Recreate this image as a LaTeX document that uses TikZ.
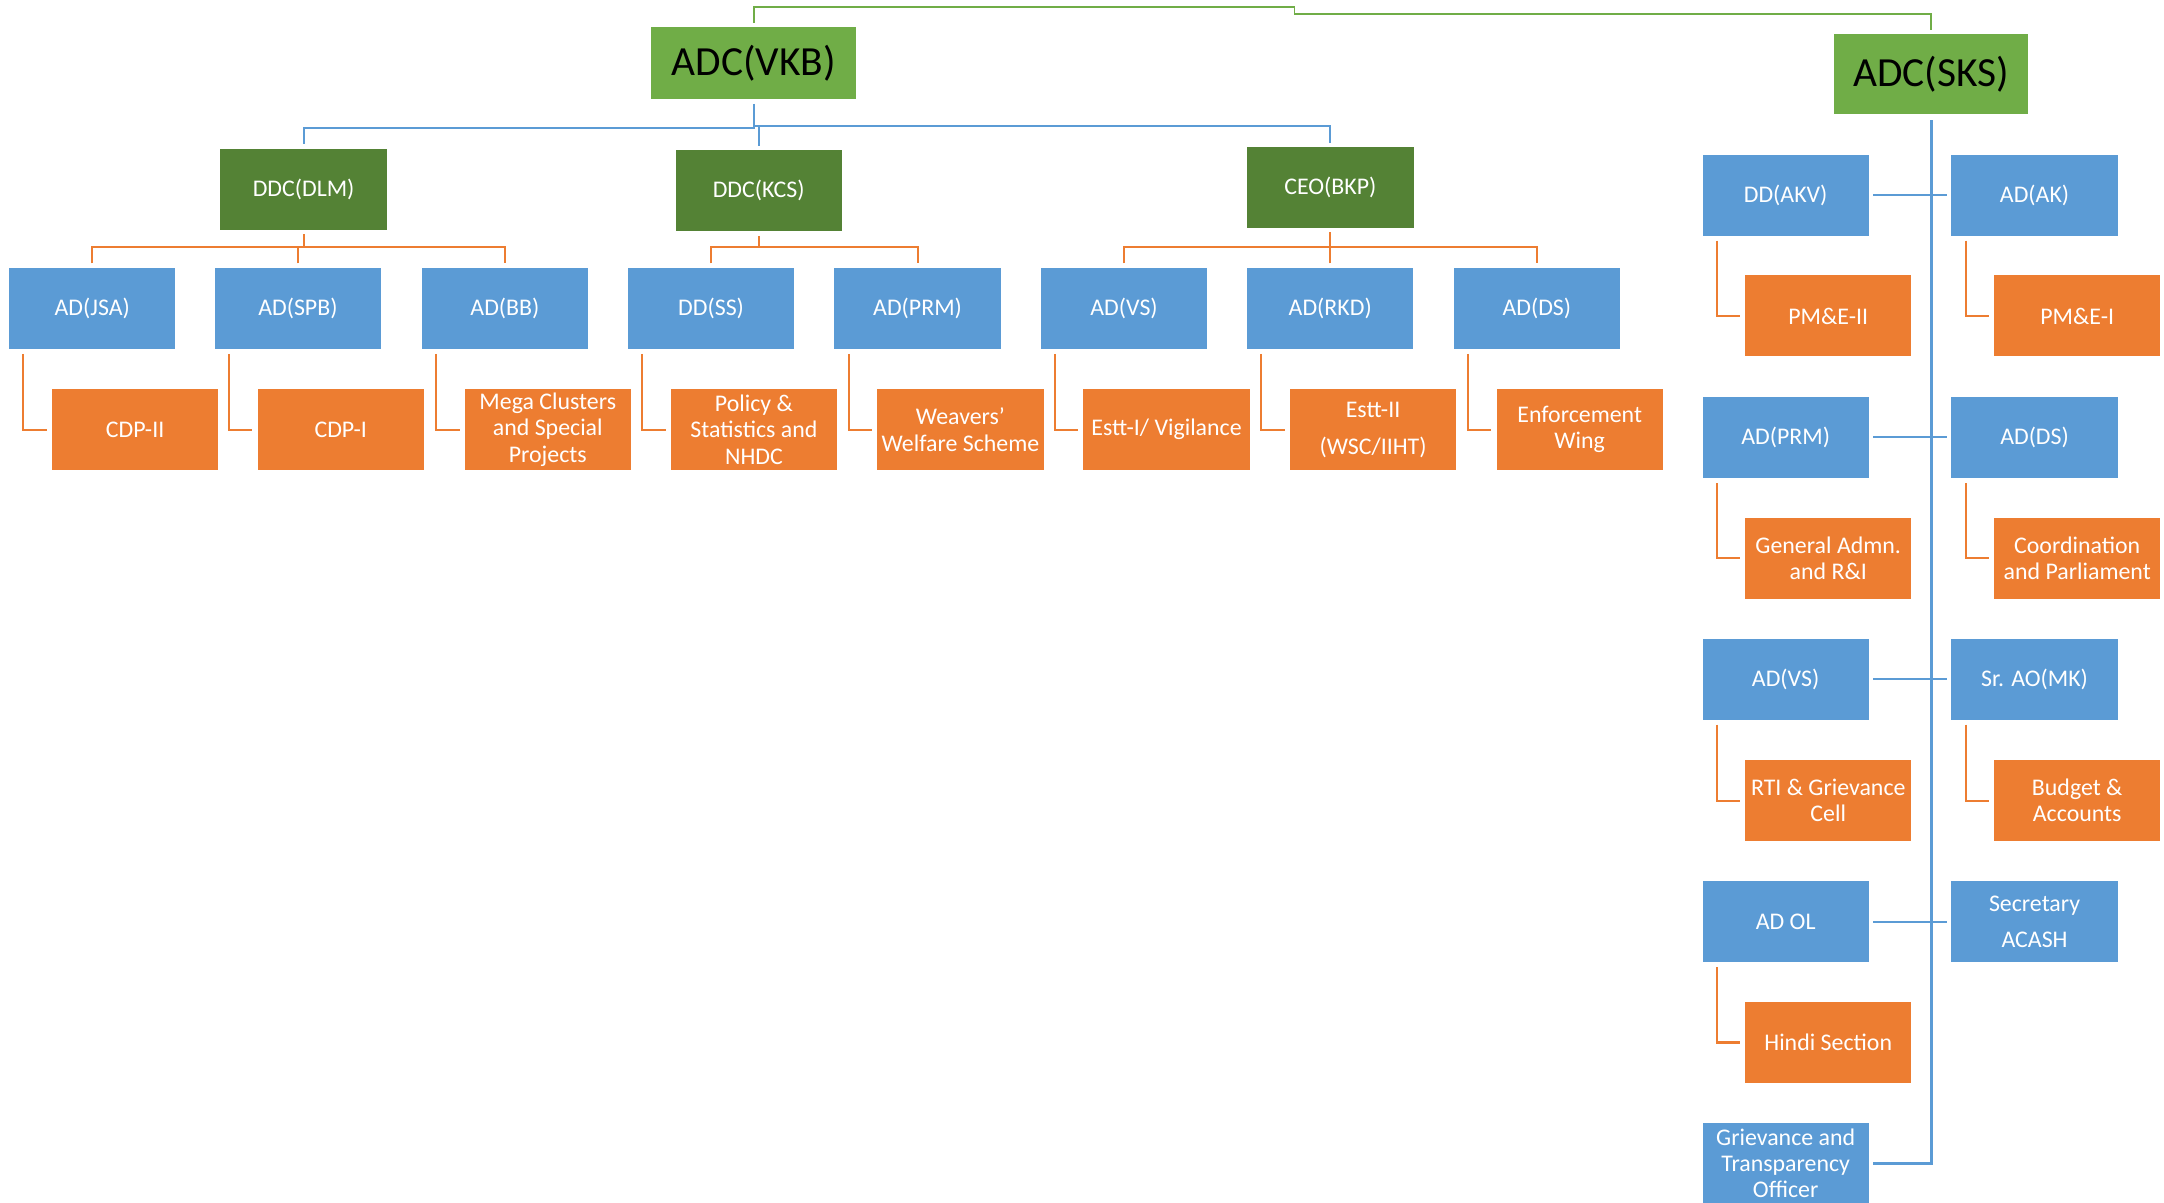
\documentclass[tikz,border=0pt]{standalone}
\usepackage{fontspec}
\setmainfont{Carlito}
\definecolor{lgreen}{HTML}{70AD47}
\definecolor{dgreen}{HTML}{548235}
\definecolor{mblue}{HTML}{5B9BD5}
\definecolor{morange}{HTML}{ED7D31}
\tikzset{
  box/.style={rectangle, inner sep=0pt, minimum width=120.5pt, minimum height=58.7pt,
    align=center, text=white, font=\fontsize{17.3}{19}\selectfont},
  bbox/.style={box, fill=mblue},
  obox/.style={box, fill=morange},
  gbox/.style={box, fill=dgreen},
  topbox/.style={rectangle, inner sep=0pt, fill=lgreen, text=black,
    font=\fontsize{30}{34}\selectfont},
  bconn/.style={draw=mblue, line width=1.5pt},
  bspine/.style={draw=mblue, line width=2.2pt},
  oconn/.style={draw=morange, line width=1.5pt},
  gconn/.style={draw=lgreen, line width=1.3pt},
}
\begin{document}
\begin{tikzpicture}[x=1pt,y=-1pt]
\useasboundingbox (0,0) rectangle (1568,871);
\clip (0,0) rectangle (1568,871);

% top level
\node[topbox, minimum width=148.4pt, minimum height=52.2pt] (vkb) at (546.1,45.9) {ADC(VKB)};
\node[topbox, minimum width=140.9pt, minimum height=57.9pt] (sks) at (1399.2,53.8) {ADC(SKS)};

% second level (left)
\node[gbox] (dlm) at (220,137) {DDC(DLM)};
\node[gbox] (kcs) at (549.7,138.3) {DDC(KCS)};
\node[gbox] (ceo) at (964,135.8) {CEO(BKP)};

% AD row (left)
\node[bbox] (jsa)  at (66.85,223.4)  {AD(JSA)};
\node[bbox] (spb)  at (215.85,223.4) {AD(SPB)};
\node[bbox] (bb)   at (365.85,223.4) {AD(BB)};
\node[bbox] (ss)   at (515.25,223.4) {DD(SS)};
\node[bbox] (prmL) at (664.85,223.4) {AD(PRM)};
\node[bbox] (vsL)  at (814.45,223.4) {AD(VS)};
\node[bbox] (rkd)  at (963.85,223.4) {AD(RKD)};
\node[bbox] (dsL)  at (1113.55,223.4) {AD(DS)};

% section row (left)
\node[obox] (cdp2)    at (97.9,311.3)   {CDP-II};
\node[obox] (cdp1)    at (246.9,311.3)  {CDP-I};
\node[obox] (mega)    at (396.9,311.3)  {Mega Clusters\\and Special\\Projects};
\node[obox] (policy)  at (546.3,311.3)  {Policy \&\\Statistics and\\NHDC};
\node[obox] (weavers) at (695.9,311.3)  {Weavers’\\Welfare Scheme};
\node[obox] (estt1)   at (845.3,311.3)  {Estt-I/ Vigilance};
\node[obox] (estt2)   at (994.9,311.3)  {Estt-II\\[8pt](WSC/IIHT)};
\node[obox] (enf)     at (1144.6,311.3) {Enforcement\\Wing};

% right side
\node[bbox] (akv)  at (1293.85,141.35) {DD(AKV)};
\node[bbox] (ak)   at (1474.2,141.35)  {AD(AK)};
\node[obox] (pme2) at (1324.7,228.95)  {PM\&E-II};
\node[obox] (pme1) at (1505.1,228.95)  {PM\&E-I};

\node[bbox] (prmR)  at (1293.85,316.95) {AD(PRM)};
\node[bbox] (dsR)   at (1474.2,316.95)  {AD(DS)};
\node[obox] (gadm)  at (1324.7,404.55)  {General Admn.\\and R\&I};
\node[obox] (coord) at (1505.1,404.55)  {Coordination\\and Parliament};

\node[bbox] (vsR)    at (1293.85,492.05) {AD(VS)};
\node[bbox] (srao)   at (1474.2,492.05)  {Sr. AO(MK)};
\node[obox] (rti)    at (1324.7,580.05)  {RTI \& Grievance\\Cell};
\node[obox] (budget) at (1505.1,580.05)  {Budget \&\\Accounts};

\node[bbox] (adol)  at (1293.85,667.75) {AD OL};
\node[bbox] (secy)  at (1474.2,667.75)  {Secretary\\[7pt]ACASH};
\node[obox] (hindi) at (1324.7,755.35)  {Hindi Section};

\node[bbox] (gto) at (1293.85,843.05) {Grievance and\\Transparency\\Officer};

% green connector between the two ADCs
\draw[gconn] ([yshift=3pt]vkb.north) -- (vkb.north |- 0,4.8) -- (938,4.8) -- (938,10.4)
  -| ([yshift=3pt]sks.north);

% blue connectors from ADC(VKB)
\draw[bconn] ([yshift=-3pt]vkb.south) -- (vkb.south |- 0,93) -| ([yshift=3pt]dlm.north);
\draw[bconn] ([yshift=-3pt]vkb.south) -- (vkb.south |- 0,91) -| ([yshift=3pt]kcs.north);
\draw[bconn] (vkb.south |- 0,91) -| ([yshift=3pt]ceo.north);

% orange connectors from second level to AD row
\draw[oconn] ([yshift=-3pt]dlm.south) -- (dlm.south |- 0,179);
\draw[oconn] ([yshift=3pt]jsa.north) -- (jsa.north |- 0,179) -| ([yshift=3pt]bb.north);
\draw[oconn] ([yshift=3pt]spb.north) -- (spb.north |- 0,179);

\draw[oconn] ([yshift=-3pt]kcs.south) -- (kcs.south |- 0,179);
\draw[oconn] ([yshift=3pt]ss.north) -- (ss.north |- 0,179) -| ([yshift=3pt]prmL.north);

\draw[oconn] ([yshift=-3pt]ceo.south) -- (ceo.south |- 0,179);
\draw[oconn] ([yshift=3pt]vsL.north) -- (vsL.north |- 0,179) -| ([yshift=3pt]dsL.north);
\draw[oconn] ([yshift=3pt]rkd.north) -- (rkd.north |- 0,179);

% elbows to sections
\foreach \a/\b in {jsa/cdp2, spb/cdp1, bb/mega, ss/policy, prmL/weavers, vsL/estt1, rkd/estt2, dsL/enf,
  akv/pme2, ak/pme1, prmR/gadm, dsR/coord, vsR/rti, srao/budget, adol/hindi}
  \draw[oconn] ([xshift=10.5pt,yshift=-3.5pt]\a.south west) |- ([xshift=-3.5pt]\b.west);

% right spine
\draw[bspine] ([yshift=-4pt]sks.south) |- ([xshift=3pt]gto.east);
\foreach \a/\b in {akv/ak, prmR/dsR, vsR/srao, adol/secy}
  \draw[bconn] ([xshift=3pt]\a.east) -- ([xshift=-3pt]\b.west);
\end{tikzpicture}
\end{document}
